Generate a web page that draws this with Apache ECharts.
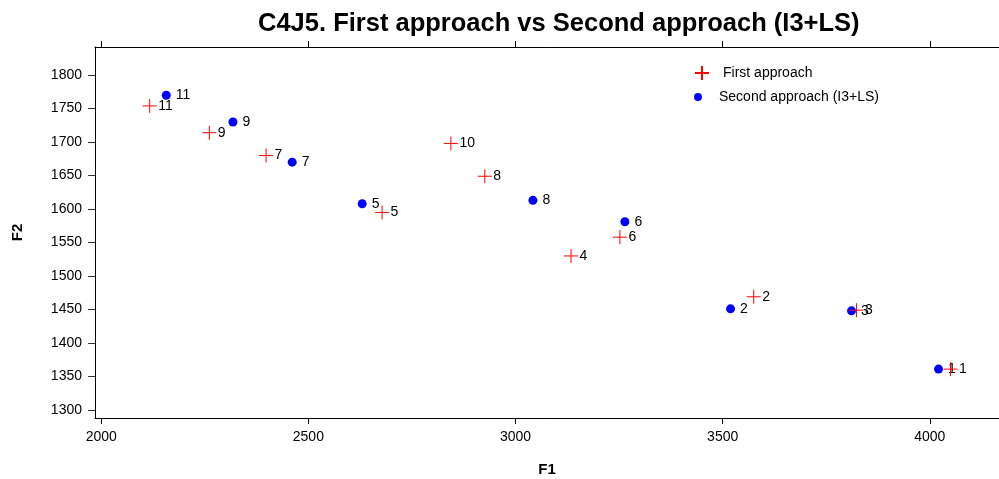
<!DOCTYPE html>
<html>
<head>
<meta charset="utf-8">
<script src="https://cdn.jsdelivr.net/npm/echarts@6/dist/echarts.min.js"></script>
<style>html,body{margin:0;padding:0;background:#fff;}#c{width:999px;height:479px;}</style>
</head>
<body>
<div id="c"></div>
<script>
const labelsFirst = ['1','2','3','4','5','6','7','8','9','10','11'];
const firstX = [4050, 3575, 3823, 3134, 2678, 3252, 2398, 2926, 2261, 2844, 2117];
const firstY = [1361, 1469, 1449, 1530, 1595, 1558, 1680, 1649, 1714, 1698, 1754];
const labelsSecond = ['1','2','3','5','6','7','8','9','11'];
const secondX = [4021, 3519, 3811, 2630, 3264, 2461, 3042, 2318, 2157];
const secondY = [1361, 1451, 1448, 1608, 1581, 1670, 1613, 1730, 1770];
const xTicks = [2000, 2500, 3000, 3500, 4000];
const yTicks = [1300, 1350, 1400, 1450, 1500, 1550, 1600, 1650, 1700, 1750, 1800];

const font = 'Liberation Sans, Arial, sans-serif';
const chart = echarts.init(document.getElementById('c'), null, {renderer: 'canvas'});
const firstData = firstX.map((x, i) => [x, firstY[i], labelsFirst[i]]);
const secondData = secondX.map((x, i) => [x, secondY[i], labelsSecond[i]]);
const plainNum = v => String(v);
const axisCommon = {
  type: 'value', min: 1985, max: 4167,
  axisLine: {show: true, lineStyle: {color: '#000', width: 1}},
  splitLine: {show: false},
  axisTick: {show: true, length: 6, customValues: xTicks, lineStyle: {color: '#000'}}
};
chart.setOption({
  animation: false,
  backgroundColor: '#fff',
  title: {
    text: 'C4J5. First approach vs Second approach (I3+LS)',
    left: 253, top: 6,
    textStyle: {fontFamily: font, fontSize: 25.5, fontWeight: 'bold', color: '#000'}
  },
  legend: [
    {
      orient: 'vertical', left: 689, top: 60,
      itemWidth: 14, itemHeight: 14,
      textStyle: {fontFamily: font, fontSize: 14, color: '#000', padding: [0, 0, 0, 9]},
      data: ['First approach']
    },
    {
      orient: 'vertical', left: 689, top: 85,
      itemWidth: 14, itemHeight: 8,
      textStyle: {fontFamily: font, fontSize: 14, color: '#000', padding: [0, 0, 0, 9]},
      data: [{name: 'Second approach (I3+LS)', icon: 'circle'}]
    }
  ],
  grid: {left: 95, top: 47, right: 0, bottom: 61, containLabel: false, outerBoundsMode: 'none'},
  xAxis: [
    Object.assign({}, axisCommon, {
      position: 'bottom',
      name: 'F1', nameLocation: 'middle', nameGap: 44,
      nameTextStyle: {fontFamily: font, fontSize: 15, fontWeight: 'bold', color: '#000'},
      axisLabel: {customValues: xTicks, formatter: plainNum, fontFamily: font, fontSize: 14, color: '#000', margin: 12}
    }),
    Object.assign({}, axisCommon, {
      position: 'top',
      axisLabel: {show: false}
    })
  ],
  yAxis: {
    type: 'value', min: 1288, max: 1842,
    name: 'F2', nameLocation: 'middle', nameGap: 70, nameRotate: 90,
    nameTextStyle: {fontFamily: font, fontSize: 15, fontWeight: 'bold', color: '#000'},
    axisLine: {show: true, lineStyle: {color: '#000', width: 1}},
    splitLine: {show: false},
    axisTick: {show: true, length: 7, customValues: yTicks, lineStyle: {color: '#333'}},
    axisLabel: {customValues: yTicks, formatter: plainNum, fontFamily: font, fontSize: 14, color: '#000', margin: 13}
  },
  series: [
    {
      name: 'First approach', type: 'scatter', xAxisIndex: 0,
      symbol: 'path://M0,-1 L0,1 M-1,0 L1,0', symbolSize: 14,
      itemStyle: {color: 'rgba(0,0,0,0)', borderColor: '#ff0000', borderWidth: 1, opacity: 1},
      label: {show: true, position: 'right', distance: 1, formatter: p => p.data[2],
        fontFamily: font, fontSize: 14, color: '#000'},
      data: firstData, z: 3
    },
    {
      name: 'Second approach (I3+LS)', type: 'scatter', xAxisIndex: 0,
      symbol: 'circle', symbolSize: 9,
      itemStyle: {color: '#0000ff', opacity: 1},
      label: {show: true, position: 'right', distance: 5, formatter: p => p.data[2],
        fontFamily: font, fontSize: 14, color: '#000'},
      data: secondData, z: 2
    }
  ]
});
</script>
</body>
</html>
